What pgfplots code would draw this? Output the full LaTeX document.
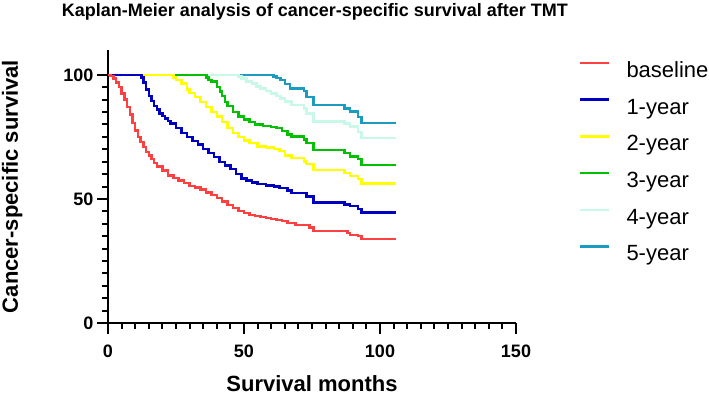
\documentclass[border=0pt]{standalone}
\usepackage{fontspec}
\setmainfont{Liberation Sans}
\usepackage{pgfplots}
\pgfplotsset{compat=1.18}

\definecolor{cBase}{RGB}{255,64,64}
\definecolor{cOne}{RGB}{0,0,192}
\definecolor{cTwo}{RGB}{255,255,0}
\definecolor{cThree}{RGB}{0,192,0}
\definecolor{cFour}{RGB}{200,248,232}
\definecolor{cFive}{RGB}{26,155,191}

\begin{document}
\begin{tikzpicture}
\useasboundingbox (0,0) rectangle (709pt,400pt);
\begin{axis}[
  at={(108pt,77pt)}, anchor=south west,
  scale only axis, width=408pt, height=273pt,
  xmin=0, xmax=150, ymin=0, ymax=110,
  axis x line*=bottom, axis y line*=left,
  axis line style={line width=2.5pt, black},
  xtick={0,50,100,150}, ytick={0,50,100},
  minor x tick num=9, minor y tick num=9,
  tick align=outside,
  major tick length=11pt, minor tick length=6pt,
  every tick/.style={black, line width=2pt},
  /pgf/number format/assume math mode=true,
  ticklabel style={font=\fontsize{18}{20}\selectfont\bfseries},
  xticklabel style={yshift=-7pt},
  title={Kaplan-Meier analysis of cancer-specific survival after TMT},
  every axis title shift=0pt,
  title style={font=\fontsize{18}{20}\selectfont\bfseries,
    at={(axis description cs:0.507,1.1245)}, anchor=base},
  xlabel={Survival months},
  ylabel={Cancer-specific survival},
  label style={font=\fontsize{22}{24}\selectfont\bfseries},
  xlabel style={at={(axis description cs:0.5,-0.222)}, anchor=center},
  ylabel style={at={(axis description cs:-0.235,0.5)}, anchor=center, rotate=0},
  every axis plot/.append style={const plot, line width=2.5pt},
  reverse legend,
  legend image code/.code={\draw[#1, line width=2.5pt] (0pt,8.7pt) -- (29pt,8.7pt);},
  legend style={draw=none, fill=none, inner sep=0pt, outer sep=0pt,
    at={(axis description cs:1.1544,0.958)}, anchor=north west,
    font=\fontsize{22}{24}\selectfont, row sep=16.2pt,
    nodes={inner sep=0pt, outer sep=0pt, text height=16pt, text depth=4.5pt},
    /tikz/every odd column/.append style={column sep=16pt}},
  legend cell align=left,
]

\addplot[cFive] coordinates {
  (0,100) (60.8,99.3) (62,98.8) (63.5,98) (65,96.3) (66.9,94.5) (72,93.5)
  (73,91) (75.5,87.9) (86,87.9) (87,86.5) (89,85.2) (92,83) (93.2,80.5)
  (106,80.5)
};
\addlegendentry{5-year}

\addplot[cFour] coordinates {
  (0,100) (47.9,99.3) (49,98.5) (51,97.3) (53,96.5) (54.6,95.3) (56,94.5)
  (58,93.5) (60,92.5) (62,91.5) (63.5,90.5) (65,89.3) (67.5,87.9) (72,86.5)
  (73,84.5) (75.5,81.2) (86,81.2) (87,80.3) (89,79.2) (92,77) (93.2,74.5)
  (106,74.5)
};
\addlegendentry{4-year}

\addplot[cThree] coordinates {
  (0,100) (36.2,99) (37,98) (38,97.3) (40,95) (41.2,93.3) (42,91.5) (43,89)
  (44,87.5) (46,85) (48,83.3) (50,82) (52,81) (54,80) (57,79.3) (60,79)
  (62,78.5) (64,77.3) (66,76) (67.5,75.1) (72,74) (73,72.5) (75.5,69.8)
  (86,69.8) (87,68.5) (89,67.1) (92,66) (93.2,63.7) (106,63.7)
};
\addlegendentry{3-year}

\addplot[cTwo] coordinates {
  (0,100) (24,99) (25,98) (27,96.6) (29,94) (30,92.6) (32,91) (34,89)
  (36,87) (38,85) (40,83.2) (42,81) (44,78.5) (46,76.5) (48,75) (50,73.5)
  (52,72.5) (55,71.2) (58,70.7) (61,70.2) (63,69.3) (65,67.5) (67.5,66.5)
  (72,65) (73,64) (75.5,61.7) (86,61.7) (87,60.5) (89,59.3) (92,58)
  (93.2,56.3) (106,56.3)
};
\addlegendentry{2-year}

\addplot[cOne] coordinates {
  (0,100) (12.4,99) (13,97) (14,94) (15,91.5) (16,89.5) (17,87.5) (18,86)
  (19,84.5) (20,83.5) (21,82.3) (22,81.3) (23,80.3) (25,78.5) (27,76.5)
  (29,75) (31,73.3) (33,72) (35,70.2) (37,68.5) (39,66.8) (41,64.8)
  (43,63.5) (45,62) (47,60) (49,58.3) (51,57.5) (53,56.6) (55,56)
  (58,55.4) (61,55) (63,54.3) (66,53.3) (67.5,52.3) (73,51) (75.5,48.6)
  (86,48.6) (87,47.8) (89,47.2) (92,46) (93.2,44.5) (106,44.5)
};
\addlegendentry{1-year}

\addplot[cBase] coordinates {
  (0,100) (1,99.5) (2,98.5) (3,97) (4,95) (5,92.5) (6,90) (7,87) (8,84)
  (9,80.5) (10,77.5) (11,75) (12,73) (13,71) (14,69) (15,67.5) (16,66)
  (17,64.5) (18,63) (20,61.5) (22,59.5) (24,58.5) (26,57.5) (28,56.5)
  (30,55.3) (32,54.5) (34,53.8) (36,52.5) (38,51.5) (40,50.3) (42,49)
  (44,47.5) (46,46.3) (48,45.2) (50,44.3) (52,43.6) (54,43.2) (56,42.8)
  (58,42.4) (60,42) (62,41.6) (64,41.2) (66,40.3) (69,39.5) (74,38.5)
  (75.5,37.1) (88,36.3) (89,35.5) (92,35) (93.2,33.9) (106,33.9)
};
\addlegendentry{baseline}

\end{axis}
\end{tikzpicture}
\end{document}
